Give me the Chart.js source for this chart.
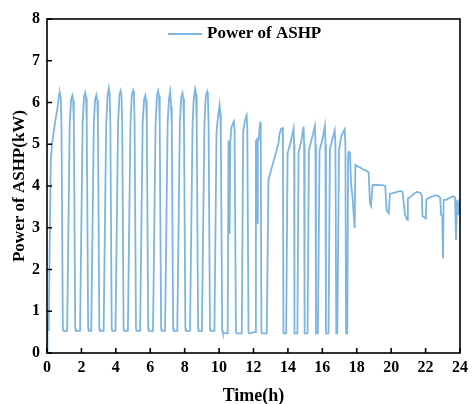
<!DOCTYPE html>
<html>
<head>
<meta charset="utf-8">
<script src="https://cdn.jsdelivr.net/npm/chart.js@4"></script>
<style>
  html, body { margin: 0; padding: 0; background: #fff; }
  #wrap { width: 473px; height: 404px; }
</style>
</head>
<body>
<div id="wrap"><canvas id="ashpChart"></canvas></div>
<script>
// time in hours and ASHP power in kW
const timeH = [
  0.00, 0.03, 0.07, 0.10, 0.17, 0.22, 0.29, 0.46, 0.62, 0.70, 0.75, 0.80, 0.84, 0.92, 0.95,
  1.17, 1.32, 1.40, 1.47, 1.52, 1.56, 1.64, 1.67,
  1.92, 2.07, 2.15, 2.22, 2.27, 2.31, 2.39, 2.42,
  2.57, 2.72, 2.80, 2.87, 2.92, 2.96, 3.04, 3.07,
  3.29, 3.44, 3.52, 3.59, 3.64, 3.68, 3.76, 3.79,
  3.98, 4.13, 4.21, 4.28, 4.33, 4.37, 4.45, 4.48,
  4.70, 4.85, 4.93, 5.00, 5.05, 5.09, 5.17, 5.20,
  5.41, 5.56, 5.64, 5.71, 5.76, 5.80, 5.88, 5.91,
  6.16, 6.31, 6.39, 6.46, 6.51, 6.55, 6.63, 6.66,
  6.86, 7.01, 7.09, 7.16, 7.21, 7.25, 7.33, 7.36,
  7.57, 7.72, 7.80, 7.87, 7.92, 7.96, 8.04, 8.07,
  8.31, 8.46, 8.53, 8.61, 8.66, 8.70, 8.78, 8.81,
  9.00, 9.15, 9.23, 9.30, 9.35, 9.39, 9.47, 9.50,
  9.73, 9.85, 9.95, 10.03, 10.07, 10.10, 10.18, 10.22,
  10.50, 10.55, 10.58, 10.61, 10.65, 10.72, 10.80, 10.86, 10.90, 10.98, 11.02,
  11.32, 11.40, 11.50, 11.60, 11.64, 11.71, 11.75,
  12.04, 12.10, 12.14, 12.18, 12.21, 12.25, 12.30, 12.39, 12.42, 12.46, 12.50,
  12.77, 12.87, 13.10, 13.29, 13.45, 13.52, 13.60, 13.69, 13.71, 13.74, 13.90,
  13.98, 14.16, 14.33, 14.36, 14.38, 14.55,
  14.62, 14.77, 14.91, 14.94, 14.97, 15.14,
  15.22, 15.37, 15.57, 15.60, 15.63, 15.74,
  15.84, 16.00, 16.15, 16.18, 16.21, 16.36,
  16.44, 16.57, 16.72, 16.76, 16.81, 16.87,
  16.97, 17.11, 17.30, 17.34, 17.38, 17.45,
  17.50, 17.55, 17.60, 17.68, 17.74, 17.88, 17.92,
  18.05, 18.15, 18.25, 18.35, 18.50, 18.69, 18.77, 18.83, 18.88, 18.92,
  19.10, 19.30, 19.50, 19.66, 19.73, 19.85, 19.93,
  20.20, 20.53, 20.66, 20.81, 20.93, 20.97,
  21.10, 21.30, 21.49, 21.68, 21.78, 21.82, 22.01, 22.05,
  22.25, 22.40, 22.55, 22.74, 22.85, 22.90, 22.97, 23.01, 23.05,
  23.20, 23.40, 23.61, 23.71, 23.77, 23.83, 23.91, 23.98
];
const powerKW = [
  0.00, 0.85, 0.55, 0.60, 3.00, 4.60, 5.00, 5.50, 5.90, 6.20, 6.22, 6.12, 5.50, 0.60, 0.53,
  0.53, 5.50, 6.07, 6.17, 6.05, 5.50, 0.60, 0.53,
  0.53, 5.50, 6.14, 6.24, 6.12, 5.50, 0.60, 0.53,
  0.53, 5.50, 6.08, 6.18, 6.06, 5.50, 0.60, 0.53,
  0.53, 5.50, 6.15, 6.34, 6.20, 5.50, 0.60, 0.53,
  0.53, 5.50, 6.18, 6.28, 6.16, 5.50, 0.60, 0.53,
  0.53, 5.50, 6.18, 6.28, 6.16, 5.50, 0.60, 0.53,
  0.53, 5.50, 6.07, 6.17, 6.05, 5.50, 0.60, 0.53,
  0.53, 5.50, 6.18, 6.28, 6.16, 5.50, 0.60, 0.53,
  0.53, 5.50, 6.10, 6.26, 5.90, 5.50, 0.60, 0.53,
  0.53, 5.50, 6.12, 6.22, 6.10, 5.50, 0.60, 0.53,
  0.53, 5.50, 6.10, 6.32, 6.20, 5.50, 0.60, 0.53,
  0.53, 5.50, 6.16, 6.26, 6.14, 5.50, 0.60, 0.53,
  0.53, 5.30, 5.70, 5.94, 5.75, 5.30, 0.55, 0.48,
  0.47, 5.07, 5.07, 2.85, 5.05, 5.40, 5.50, 5.55, 5.30, 0.50, 0.47,
  0.47, 5.30, 5.57, 5.69, 5.40, 0.50, 0.47,
  0.50, 0.50, 5.07, 5.10, 3.12, 5.10, 5.10, 5.54, 5.20, 0.50, 0.47,
  0.47, 4.15, 4.50, 4.78, 5.02, 5.26, 5.37, 5.39, 5.00, 0.47, 0.47,
  4.78, 5.06, 5.38, 5.00, 0.47, 0.47,
  4.81, 5.06, 5.42, 5.00, 0.47, 0.47,
  4.86, 5.10, 5.44, 5.00, 0.47, 0.47,
  4.86, 5.10, 5.44, 5.00, 0.47, 0.47,
  4.88, 5.10, 5.33, 5.00, 0.47, 0.47,
  4.88, 5.20, 5.36, 5.00, 0.47, 0.47,
  4.78, 4.82, 4.80, 4.00, 3.80, 2.99, 4.50,
  4.47, 4.45, 4.43, 4.40, 4.38, 4.33, 3.58, 3.52, 3.52, 4.02,
  4.03, 4.02, 4.02, 4.00, 3.42, 3.35, 3.81,
  3.84, 3.88, 3.86, 3.30, 3.19, 3.70,
  3.73, 3.81, 3.86, 3.84, 3.78, 3.28, 3.22, 3.68,
  3.73, 3.75, 3.78, 3.76, 3.72, 3.31, 3.28, 2.27, 3.67,
  3.67, 3.72, 3.76, 3.72, 2.71, 3.67, 3.30, 3.70
];
const xTicks = [0, 2, 4, 6, 8, 10, 12, 14, 16, 18, 20, 22, 24];
const yTicks = [0, 1, 2, 3, 4, 5, 6, 7, 8];
const seriesName = 'Power of ASHP';

const lineColor = '#7db5e1';
const serif = "'Liberation Serif', 'Times New Roman', serif";

const points = timeH.map((t, i) => ({ x: t, y: powerKW[i] }));

// ticks pointing inward, full frame and an in-plot legend
const framePlugin = {
  id: 'frame',
  afterDraw(chart) {
    const ctx = chart.ctx;
    const a = chart.chartArea;
    const xs = chart.scales.x, ys = chart.scales.y;
    ctx.save();
    ctx.strokeStyle = '#000';
    ctx.lineWidth = 1.6;
    ctx.strokeRect(a.left, a.top, a.right - a.left, a.bottom - a.top);
    ctx.beginPath();
    xs.ticks.forEach((t, i) => {
      const px = xs.getPixelForTick(i);
      ctx.moveTo(px, a.bottom);
      ctx.lineTo(px, a.bottom - 5);
    });
    ys.ticks.forEach((t, i) => {
      const py = ys.getPixelForTick(i);
      ctx.moveTo(a.left, py);
      ctx.lineTo(a.left + 5, py);
    });
    ctx.stroke();

    // legend
    ctx.strokeStyle = lineColor;
    ctx.lineWidth = 1.8;
    ctx.beginPath();
    ctx.moveTo(168, 34);
    ctx.lineTo(202, 34);
    ctx.stroke();
    ctx.fillStyle = '#000';
    ctx.font = 'bold 17px ' + serif;
    ctx.textBaseline = 'middle';
    ctx.textAlign = 'left';
    ctx.fillText(chart.data.datasets[0].label, 207, 34);
    ctx.restore();
  }
};

new Chart(document.getElementById('ashpChart'), {
  type: 'line',
  data: {
    datasets: [{
      label: seriesName,
      data: points,
      borderColor: lineColor,
      borderWidth: 1.8,
      pointRadius: 0,
      tension: 0,
      fill: false
    }]
  },
  options: {
    responsive: true,
    maintainAspectRatio: false,
    animation: false,
    layout: { padding: { top: 19, right: 11, left: 0, bottom: 0 } },
    plugins: {
      legend: { display: false },
      tooltip: { enabled: false }
    },
    scales: {
      x: {
        type: 'linear',
        min: 0,
        max: 24,
        afterBuildTicks(scale) { scale.ticks = xTicks.map(v => ({ value: v })); },
        afterFit(scale) { scale.height = 51; },
        grid: { display: false, drawTicks: false },
        border: { display: false },
        ticks: {
          padding: 5,
          color: '#000',
          font: { family: serif, size: 16, weight: 'bold' }
        },
        title: {
          display: true,
          text: 'Time(h)',
          color: '#000',
          padding: { top: 0, bottom: -3 },
          font: { family: serif, size: 18, weight: 'bold' }
        }
      },
      y: {
        min: 0,
        max: 8,
        afterBuildTicks(scale) { scale.ticks = yTicks.map(v => ({ value: v })); },
        afterFit(scale) { scale.width = 47; },
        grid: { display: false, drawTicks: false },
        border: { display: false },
        ticks: {
          padding: 7,
          color: '#000',
          font: { family: serif, size: 16, weight: 'bold' }
        },
        title: {
          display: true,
          text: 'Power of ASHP(kW)',
          color: '#000',
          padding: { top: 9, bottom: 0 },
          font: { family: serif, size: 17, weight: 'bold' }
        }
      }
    }
  },
  plugins: [framePlugin]
});
</script>
</body>
</html>
